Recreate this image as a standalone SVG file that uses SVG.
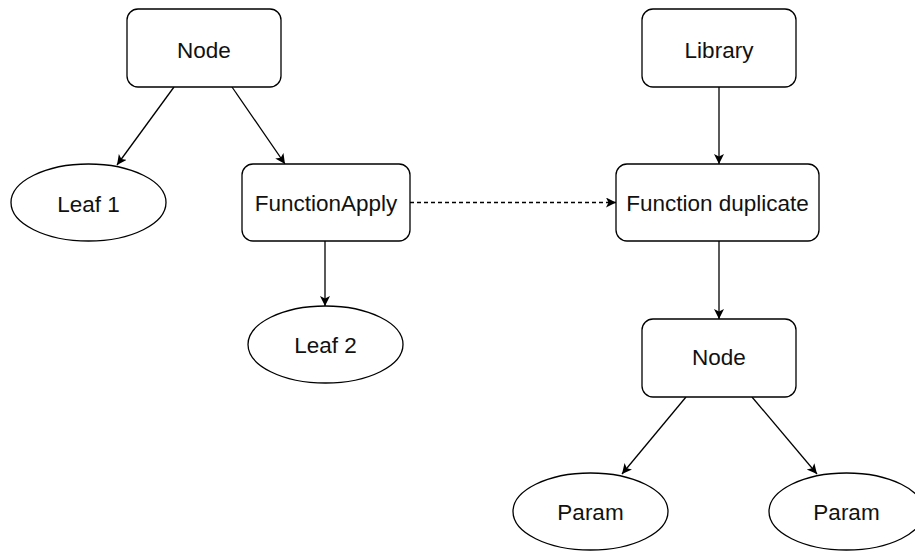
<svg xmlns="http://www.w3.org/2000/svg" width="915" height="551" viewBox="0 0 915 551">
  <defs>
    <style>
      .box { fill: #ffffff; stroke: #000000; stroke-width: 1.3; }
      .lbl { font-family: "Liberation Sans", Arial, sans-serif; font-size: 22.5px; fill: #111111; text-anchor: middle; }
      .edge { fill: none; stroke: #000000; stroke-width: 1.3; }
      .dashed { stroke-dasharray: 4 3; }
    </style>
    <marker id="arrow" markerWidth="12" markerHeight="11" refX="10" refY="5" orient="auto" markerUnits="userSpaceOnUse">
      <path d="M0,0 L10,5 L0,10 L2.5,5 Z" fill="#000000"/>
    </marker>
  </defs>

  <rect width="915" height="551" fill="#ffffff"/>

  <!-- connectors -->
  <g id="connectors">
    <line class="edge" x1="174" y1="87" x2="117" y2="165" marker-end="url(#arrow)"/>
    <line class="edge" x1="232" y1="87" x2="285" y2="164" marker-end="url(#arrow)"/>
    <line class="edge" x1="325" y1="241" x2="325" y2="306" marker-end="url(#arrow)"/>
    <line class="edge dashed" x1="410" y1="202.5" x2="616" y2="202.5" marker-end="url(#arrow)"/>
    <line class="edge" x1="719" y1="87" x2="719" y2="164" marker-end="url(#arrow)"/>
    <line class="edge" x1="719" y1="241" x2="719" y2="319" marker-end="url(#arrow)"/>
    <line class="edge" x1="686" y1="397" x2="622" y2="474" marker-end="url(#arrow)"/>
    <line class="edge" x1="752" y1="397" x2="817" y2="474" marker-end="url(#arrow)"/>
  </g>

  <!-- left tree -->
  <g id="node-top">
    <rect class="box" x="127" y="9" width="154" height="78" rx="11" ry="11"/>
    <text class="lbl" x="204" y="57.5">Node</text>
  </g>
  <g id="leaf1">
    <ellipse class="box" cx="88.5" cy="202.5" rx="77.5" ry="38.5"/>
    <text class="lbl" x="88.5" y="212">Leaf 1</text>
  </g>
  <g id="function-apply">
    <rect class="box" x="242" y="164" width="168" height="77" rx="11" ry="11"/>
    <text class="lbl" x="326" y="211">FunctionApply</text>
  </g>
  <g id="leaf2">
    <ellipse class="box" cx="325.5" cy="344.5" rx="77.5" ry="38.5"/>
    <text class="lbl" x="325.5" y="353">Leaf 2</text>
  </g>

  <!-- right tree -->
  <g id="library">
    <rect class="box" x="642" y="9" width="154" height="78" rx="11" ry="11"/>
    <text class="lbl" x="719" y="57.5">Library</text>
  </g>
  <g id="function-duplicate">
    <rect class="box" x="616" y="164" width="203" height="77" rx="11" ry="11"/>
    <text class="lbl" x="717.5" y="211">Function duplicate</text>
  </g>
  <g id="node-inner">
    <rect class="box" x="642" y="319" width="154" height="78" rx="11" ry="11"/>
    <text class="lbl" x="719" y="365">Node</text>
  </g>
  <g id="param-left">
    <ellipse class="box" cx="590.5" cy="511.5" rx="77.5" ry="38.5"/>
    <text class="lbl" x="590.5" y="520">Param</text>
  </g>
  <g id="param-right">
    <ellipse class="box" cx="846.5" cy="511.5" rx="77.5" ry="38.5"/>
    <text class="lbl" x="846.5" y="520">Param</text>
  </g>
</svg>
